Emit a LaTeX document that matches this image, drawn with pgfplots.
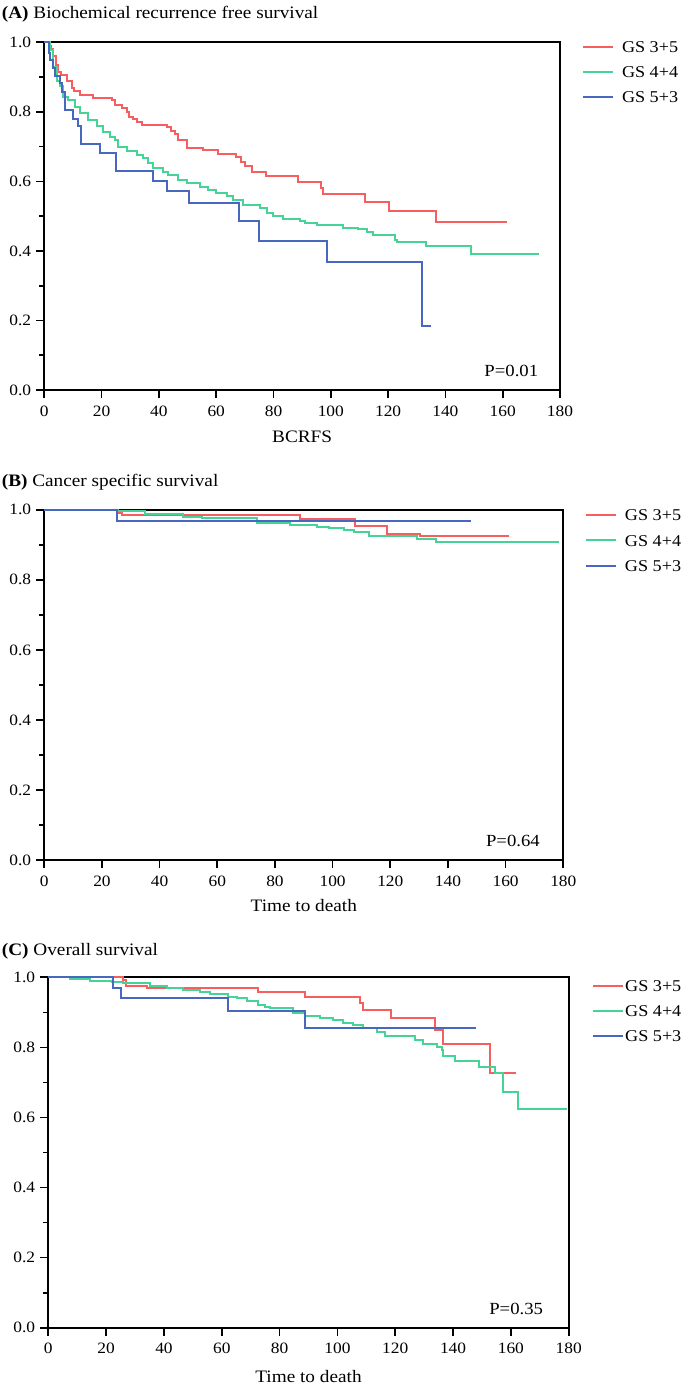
\documentclass[border=0pt]{standalone}
\usepackage{fontspec}
\setmainfont{Liberation Serif}[FakeStretch=1.1]
\usepackage{pgfplots}
\pgfplotsset{compat=1.18}
\definecolor{cred}{RGB}{245,95,95}
\definecolor{cgreen}{RGB}{70,212,150}
\definecolor{cblue}{RGB}{72,104,192}
\pgfplotsset{
  km/.style={
    scale only axis,
    xmin=0, xmax=180, ymin=0, ymax=1,
    xtick={0,20,40,60,80,100,120,140,160,180},
    ytick={0,0.2,0.4,0.6,0.8,1.0},
    minor y tick num=1,
    tick align=outside,
    tick pos=left,
    major tick length=8pt,
    minor tick length=5pt,
    axis line style={line width=1.7pt},
    every tick/.append style={black, line width=1.7pt},
    /pgf/number format/assume math mode=true,
    yticklabel style={/pgf/number format/fixed, /pgf/number format/fixed zerofill, /pgf/number format/precision=1, font=\fontsize{15.8}{15.8}\selectfont, xshift=-1.7pt},
    xticklabel style={font=\fontsize{15.8}{15.8}\selectfont, yshift=-4pt},
    clip=false,
    legend cell align=left,
    legend style={draw=none, fill=none, inner sep=0pt, outer sep=0pt, font=\fontsize{16.5}{16.5}\selectfont, nodes={inner sep=0pt, text height=11.2pt, text depth=0pt}, row sep=13.8pt, /tikz/every odd column/.style={column sep=8pt}},
    legend image code/.code={\draw[#1] (0pt,0pt) -- (30pt,0pt);},
    every axis plot/.append style={line width=2pt, const plot},
    every axis title/.style={anchor=base west, inner sep=0pt, font=\fontsize{17.5}{17.5}\selectfont},
    xlabel style={anchor=base, inner sep=0pt, font=\fontsize{17.5}{17.5}\selectfont},
  }
}
\begin{document}
\begin{tikzpicture}
\useasboundingbox (0,0) rectangle (685pt,-1388pt);
% ---------------- Panel A ----------------
\begin{axis}[km, at={(44.3pt,-390pt)}, anchor=south west, width=515.7pt, height=347.7pt,
  title={\textbf{(A)} Biochemical recurrence free survival},
  title style={at={(axis description cs:-0.0826,1.069)}},
  xlabel={BCRFS},
  xlabel style={at={(axis description cs:0.5,-0.151)}},
  legend style={at={(axis description cs:1.0427,1.0017)}, anchor=north west}]
\addplot[cred] coordinates {
(0,1.0) (1.5,0.99) (2.3,0.98) (3,0.96) (4,0.935) (4.8,0.916) (6,0.906) (7.8,0.89)
(9.5,0.87) (10.5,0.86) (12.4,0.847) (17,0.84) (23.5,0.834) (24.7,0.82) (27,0.81)
(29,0.80) (29.7,0.786) (31,0.78) (32.5,0.77) (34,0.762) (42.7,0.755) (44.2,0.745)
(45.5,0.735) (46.5,0.72) (49.8,0.695) (55.5,0.689) (60.7,0.679) (67,0.67) (68.5,0.655)
(70,0.645) (72.5,0.627) (77.5,0.616) (88.6,0.597) (96.6,0.58) (97.2,0.565) (112,0.541)
(120.4,0.515) (136.7,0.482) (161.4,0.482)};
\addlegendentry{GS 3+5}
\addplot[cgreen] coordinates {
(0,1.0) (2,0.978) (3.1,0.93) (4.3,0.89) (5.5,0.873) (6.6,0.844) (8.4,0.834) (10.7,0.815)
(12.4,0.796) (15.3,0.777) (18.3,0.758) (20.6,0.743) (22.9,0.729) (24.7,0.72) (25.8,0.70)
(28.7,0.686) (32.2,0.676) (34.5,0.667) (36.3,0.652) (38,0.638) (41.5,0.628) (43.3,0.619)
(46.7,0.604) (49.7,0.595) (54.3,0.585) (57.2,0.576) (60.1,0.566) (63.6,0.557) (65.9,0.547)
(69.4,0.533) (75.2,0.523) (77.6,0.509) (79.9,0.50) (83.4,0.491) (89.2,0.486) (91,0.48)
(95.1,0.474) (104.4,0.466) (109.6,0.463) (112.6,0.454) (114.9,0.446) (122.4,0.431)
(123,0.425) (133.2,0.413) (148.9,0.392) (172.8,0.392)};
\addlegendentry{GS 4+4}
\addplot[cblue] coordinates {
(0,1.0) (1.5,0.968) (2,0.95) (2.9,0.925) (3.7,0.903) (5.5,0.882) (6.3,0.858) (7.2,0.806)
(10.1,0.78) (11.6,0.758) (12.7,0.708) (19.4,0.681) (25.2,0.63) (37.8,0.60) (42.7,0.571)
(50.5,0.537) (67.9,0.485) (75,0.429) (98.6,0.367) (131.8,0.185) (134.9,0.185)};
\addlegendentry{GS 5+3}
\node[anchor=base east, inner sep=0pt, font=\fontsize{17}{17}\selectfont] at (rel axis cs:0.958,0.038) {P=0.01};
\end{axis}
% ---------------- Panel B ----------------
\begin{axis}[km, at={(44.3pt,-860.3pt)}, anchor=south west, width=519pt, height=350.6pt,
  title={\textbf{(B)} Cancer specific survival},
  title style={at={(axis description cs:-0.0821,1.0656)}},
  xlabel={Time to death},
  xlabel style={at={(axis description cs:0.5,-0.146)}},
  legend style={at={(axis description cs:1.0418,1.0009)}, anchor=north west, row sep=14.3pt}]
\addplot[cred] coordinates {
(0,1.0) (25.7,0.991) (26.8,0.985) (88.7,0.973) (107.8,0.953) (118.8,0.932) (130.3,0.925) (161.3,0.925)};
\addlegendentry{GS 3+5}
\addplot[cgreen] coordinates {
(0,1.0) (25.7,0.995) (34.9,0.988) (48.2,0.98) (54.6,0.975) (73.7,0.963) (85.2,0.956)
(94.7,0.952) (98.7,0.947) (103.9,0.943) (107.4,0.936) (112.6,0.925) (129.4,0.917)
(135.7,0.908) (178.5,0.908)};
\addlegendentry{GS 4+4}
\addplot[cblue] coordinates {
(0,1.0) (25.2,0.968) (147.9,0.968)};
\addlegendentry{GS 5+3}
\node[anchor=base east, inner sep=0pt, font=\fontsize{17}{17}\selectfont] at (rel axis cs:0.955,0.039) {P=0.64};
\end{axis}
% ---------------- Panel C ----------------
\begin{axis}[km, at={(48.3pt,-1327.7pt)}, anchor=south west, width=520.4pt, height=350.4pt,
  title={\textbf{(C)} Overall survival},
  title style={at={(axis description cs:-0.0895,1.0636)}},
  xlabel={Time to death},
  xlabel style={at={(axis description cs:0.5,-0.156)}},
  legend style={at={(axis description cs:1.0442,0.9912)}, anchor=north west, /tikz/every odd column/.style={column sep=1.5pt}}]
\addplot[cred] coordinates {
(0,1.0) (25.7,0.992) (27,0.976) (34,0.969) (72.6,0.959) (88.8,0.944) (107.8,0.926)
(109,0.907) (118.7,0.883) (133.8,0.849) (136.6,0.811) (152.8,0.728) (161.9,0.728)};
\addlegendentry{GS 3+5}
\addplot[cgreen] coordinates {
(0,1.0) (7.5,0.996) (14.4,0.99) (22,0.988) (26,0.985) (35.2,0.976) (41,0.97) (46.7,0.964)
(52.5,0.959) (55.9,0.952) (62.3,0.945) (65.2,0.94) (68.6,0.932) (72.6,0.922) (74.9,0.916)
(76.7,0.911) (84.8,0.897) (88.8,0.890) (94,0.884) (98.6,0.878) (102,0.871) (105.5,0.863)
(108.9,0.854) (113.6,0.844) (116.4,0.833) (126.8,0.821) (129.7,0.811) (134.4,0.801)
(136.2,0.792) (136.6,0.775) (140.8,0.761) (148.9,0.745) (154.6,0.726) (157.3,0.673)
(162.6,0.624) (179.3,0.624)};
\addlegendentry{GS 4+4}
\addplot[cblue] coordinates {
(0,1.0) (22.5,0.969) (25,0.942) (62.3,0.905) (88.8,0.854) (147.9,0.854)};
\addlegendentry{GS 5+3}
\node[anchor=base east, inner sep=0pt, font=\fontsize{17}{17}\selectfont] at (rel axis cs:0.951,0.039) {P=0.35};
\end{axis}
\end{tikzpicture}
\end{document}
